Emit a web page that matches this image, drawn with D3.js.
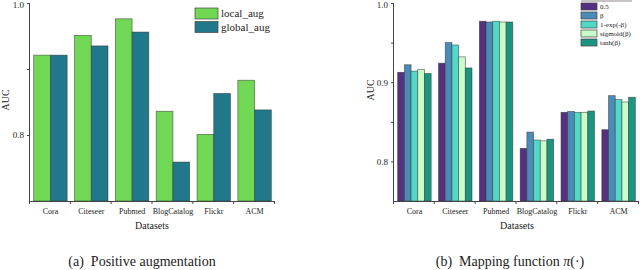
<!DOCTYPE html>
<html>
<head>
<meta charset="utf-8">
<script src="https://cdn.jsdelivr.net/npm/d3@7"></script>
<style>
  body { margin: 0; background: #fff; }
  svg text { font-family: "Liberation Serif", "DejaVu Serif", serif; fill: #222; }
</style>
</head>
<body>
<svg width="640" height="270"></svg>
<script>
const datasets = ['Cora', 'Citeseer', 'Pubmed', 'BlogCatalog', 'Flickr', 'ACM'];

// (a) positive augmentation
const augSeries = ['local_aug', 'global_aug'];
const localAug = [0.921, 0.951, 0.976, 0.836, 0.801, 0.883];
const globalAug = [0.921, 0.935, 0.956, 0.759, 0.863, 0.838];
const augTicks = [1.0, 0.9, 0.8];

// (b) mapping function
const mapSeries = ['0.5', 'β', '1-exp(-β)', 'sigmoid(β)', 'tanh(β)'];
const mapHalf = [0.9125, 0.924, 0.977, 0.8165, 0.862, 0.840];
const mapBeta = [0.922, 0.950, 0.976, 0.837, 0.863, 0.883];
const mapExp = [0.914, 0.947, 0.977, 0.827, 0.862, 0.878];
const mapSigmoid = [0.916, 0.932, 0.976, 0.826, 0.862, 0.875];
const mapTanh = [0.911, 0.918, 0.976, 0.828, 0.8636, 0.881];
const mapTicks = [1.0, 0.95, 0.9, 0.85, 0.8];

const svg = d3.select('svg');

const drawPanel = (cfg) => {
    const g = svg.append('g');
    const x0 = d3.scaleBand().domain(datasets).range(cfg.xRange).paddingInner(0.18).paddingOuter(0.09);
    const x1 = d3.scaleBand().domain(cfg.series).range([0, x0.bandwidth()]);
    const y = d3.scaleLinear().domain(cfg.yDomain).range([201, 3]);

    const rows = datasets.map((d, i) => ({ d, vals: cfg.values.map(v => v[i]) }));

    g.selectAll('g.grp')
        .data(rows)
        .enter().append('g')
            .attr('transform', r => `translate(${x0(r.d)},0)`)
        .selectAll('rect')
        .data(r => r.vals.map((v, k) => ({ k, v })))
        .enter().append('rect')
            .attr('x', e => x1(cfg.series[e.k]))
            .attr('width', x1.bandwidth())
            .attr('y', e => y(e.v))
            .attr('height', e => 201 - y(e.v))
            .attr('fill', e => cfg.colors[e.k])
            .attr('stroke', '#333')
            .attr('stroke-opacity', 0.7)
            .attr('stroke-width', 0.7);

    // y axis
    const yAxis = d3.axisLeft(y).tickValues(cfg.ticks).tickSize(3)
        .tickFormat(t => cfg.labelled.includes(t) ? d3.format('.1f')(t) : '');
    const yg = g.append('g').attr('transform', `translate(${cfg.xRange[0]},0)`).call(yAxis);
    yg.select('.domain').attr('stroke', '#444').attr('d', `M-0.5,3V201.5`);
    yg.selectAll('.tick line').attr('stroke', '#444');
    yg.selectAll('.tick text').attr('font-size', 9).attr('font-family', '"Liberation Serif", serif').attr('fill', '#222')
        .attr('y', t => t === 1.0 ? 2 : 0);

    // x axis
    const xAxis = d3.axisBottom(x0).tickSize(0);
    const xg = g.append('g').attr('transform', 'translate(0,201)').call(xAxis);
    xg.select('.domain').attr('stroke', '#444').attr('d', `M${cfg.xRange[0] - 0.5},0.5H${cfg.xRange[1]}`);
    xg.selectAll('.tick text').attr('dy', 0).attr('y', 13).attr('font-size', 8)
        .attr('font-family', '"Liberation Serif", serif').attr('fill', '#222');
    const step = x0.step();
    xg.selectAll('line.edge')
        .data(d3.range(datasets.length + 1))
        .enter().append('line')
            .attr('x1', i => x0(datasets[0]) - x0.paddingOuter() * step + i * step - 0.5)
            .attr('x2', i => x0(datasets[0]) - x0.paddingOuter() * step + i * step - 0.5)
            .attr('y1', 0).attr('y2', 3)
            .attr('stroke', '#444');

    g.append('text').text('Datasets')
        .attr('x', cfg.titleX).attr('y', 229)
        .attr('text-anchor', 'middle').attr('font-size', 10);
    g.append('text').text('AUC')
        .attr('transform', `translate(${cfg.aucX},${cfg.aucY}) rotate(-90)`)
        .attr('text-anchor', 'middle').attr('font-size', 10);
    const cap = g.append('text')
        .attr('x', cfg.captionX).attr('y', 266)
        .attr('text-anchor', 'middle').attr('font-size', 14)
        .style('white-space', 'pre');
    cap.append('tspan').text(cfg.caption);
    if (cfg.captionMath) {
        cap.append('tspan').text(cfg.captionMath).attr('font-style', 'italic');
        cap.append('tspan').text('(·)');
    }

    // legend
    const lg = g.append('g').attr('transform', `translate(${cfg.legend.x},${cfg.legend.y})`);
    if (cfg.legend.topLine) {
        lg.append('line').attr('x1', 0).attr('x2', 51).attr('y1', -2).attr('y2', -2)
            .attr('stroke', '#888').attr('stroke-width', 1);
    }
    const items = lg.selectAll('g').data(cfg.series).enter().append('g')
        .attr('transform', (s, i) => `translate(0,${i * cfg.legend.gap})`);
    items.append('rect')
        .attr('width', cfg.legend.w).attr('height', cfg.legend.h)
        .attr('fill', (s, i) => cfg.colors[i])
        .attr('stroke', '#444').attr('stroke-width', 0.7);
    items.append('text').text(s => s)
        .attr('x', cfg.legend.w + 3).attr('y', cfg.legend.h / 2)
        .attr('dy', '0.35em').attr('font-size', cfg.legend.font);
};

drawPanel({
    series: augSeries,
    values: [localAug, globalAug],
    colors: ['#70d854', '#21788a'],
    xRange: [30, 275],
    yDomain: [0.7, 1.0],
    ticks: augTicks,
    labelled: [1.0, 0.8],
    titleX: 152, aucX: 9, aucY: 100,
    caption: '(a)  Positive augmentation', captionX: 142,
    legend: { x: 195, y: 8, gap: 13.5, w: 23, h: 11, font: 11 }
});

drawPanel({
    series: mapSeries,
    values: [mapHalf, mapBeta, mapExp, mapSigmoid, mapTanh],
    colors: ['#55317f', '#4a8bb8', '#4fd9c6', '#c8fcc8', '#1a9680'],
    xRange: [394, 639],
    yDomain: [0.75, 1.0],
    ticks: mapTicks,
    labelled: [1.0, 0.9, 0.8],
    titleX: 517, aucX: 374, aucY: 90,
    caption: '(b)  Mapping function ', captionMath: 'π', captionX: 510,
    legend: { x: 581, y: 3, gap: 9, w: 16, h: 7, font: 7, topLine: true }
});
</script>
</body>
</html>
